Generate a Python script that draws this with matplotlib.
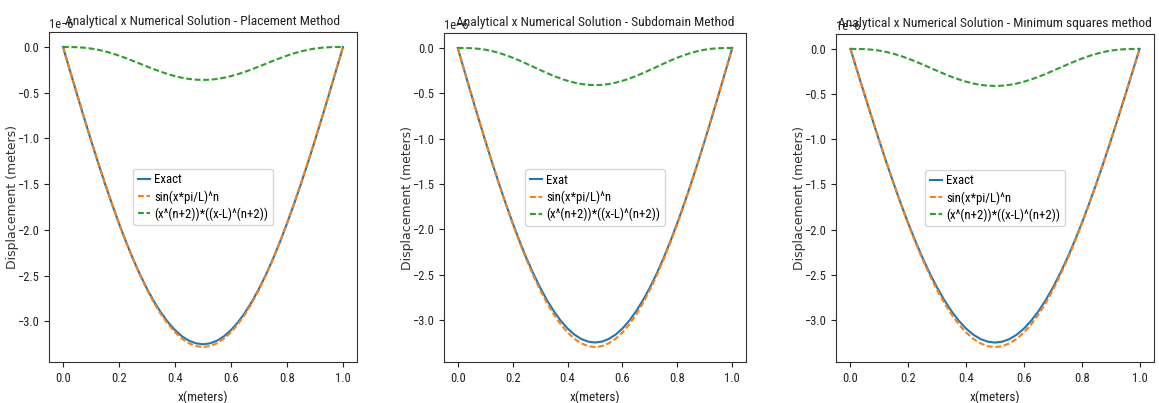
import matplotlib
matplotlib.use("Agg")
import matplotlib.pyplot as plt
import numpy as np

NARROW = ['Roboto Condensed', 'Fira Sans Condensed', 'IBM Plex Sans Condensed',
          'Archivo Narrow', 'DejaVu Sans']
plt.rcParams['font.family'] = NARROW

# x positions (meters)
x = [0.000, 0.025, 0.050, 0.075, 0.100, 0.125, 0.150, 0.175, 0.200, 0.225, 0.250,
     0.275, 0.300, 0.325, 0.350, 0.375, 0.400, 0.425, 0.450, 0.475, 0.500,
     0.525, 0.550, 0.575, 0.600, 0.625, 0.650, 0.675, 0.700, 0.725, 0.750,
     0.775, 0.800, 0.825, 0.850, 0.875, 0.900, 0.925, 0.950, 0.975, 1.000]

# Values in units of 1e-6 m
exact = [0.0, -0.260, -0.518, -0.772, -1.020, -1.262, -1.495, -1.718, -1.930, -2.130, -2.316,
         -2.487, -2.643, -2.782, -2.904, -3.009, -3.095, -3.163, -3.211, -3.240, -3.250,
         -3.240, -3.211, -3.163, -3.095, -3.009, -2.904, -2.782, -2.643, -2.487, -2.316,
         -2.130, -1.930, -1.718, -1.495, -1.262, -1.020, -0.772, -0.518, -0.260, 0.0]

sin_place = [0.0, -0.257, -0.513, -0.766, -1.014, -1.255, -1.489, -1.714, -1.928, -2.130, -2.319,
             -2.494, -2.654, -2.797, -2.923, -3.030, -3.120, -3.189, -3.240, -3.270, -3.280,
             -3.270, -3.240, -3.189, -3.120, -3.030, -2.923, -2.797, -2.654, -2.494, -2.319,
             -2.130, -1.928, -1.714, -1.489, -1.255, -1.014, -0.766, -0.513, -0.257, 0.0]
sin_sub = [0.0, -0.259, -0.516, -0.770, -1.020, -1.263, -1.498, -1.724, -1.940, -2.143, -2.334,
           -2.509, -2.670, -2.814, -2.940, -3.049, -3.139, -3.209, -3.259, -3.290, -3.300,
           -3.290, -3.259, -3.209, -3.139, -3.049, -2.940, -2.814, -2.670, -2.509, -2.334,
           -2.143, -1.940, -1.724, -1.498, -1.263, -1.020, -0.770, -0.516, -0.259, 0.0]
sin_ls = [0.0, -0.259, -0.516, -0.770, -1.020, -1.263, -1.498, -1.724, -1.940, -2.143, -2.334,
          -2.509, -2.670, -2.814, -2.940, -3.049, -3.139, -3.209, -3.259, -3.290, -3.300,
          -3.290, -3.259, -3.209, -3.139, -3.049, -2.940, -2.814, -2.670, -2.509, -2.334,
          -2.143, -1.940, -1.724, -1.498, -1.263, -1.020, -0.770, -0.516, -0.259, 0.0]

poly_place = [0.0, -0.0003, -0.0025, -0.0077, -0.0168, -0.0302, -0.0478, -0.0693, -0.0944, -0.1222, -0.1519,
              -0.1826, -0.2134, -0.2433, -0.2713, -0.2966, -0.3185, -0.3362, -0.3493, -0.3573, -0.3600,
              -0.3573, -0.3493, -0.3362, -0.3185, -0.2966, -0.2713, -0.2433, -0.2134, -0.1826, -0.1519,
              -0.1222, -0.0944, -0.0693, -0.0478, -0.0302, -0.0168, -0.0077, -0.0025, -0.0003, 0.0]
poly_sub = [0.0, -0.0004, -0.0028, -0.0088, -0.0191, -0.0343, -0.0544, -0.0790, -0.1075, -0.1391, -0.1730,
            -0.2080, -0.2430, -0.2770, -0.3090, -0.3378, -0.3627, -0.3829, -0.3978, -0.4069, -0.4100,
            -0.4069, -0.3978, -0.3829, -0.3627, -0.3378, -0.3090, -0.2770, -0.2430, -0.2080, -0.1730,
            -0.1391, -0.1075, -0.0790, -0.0544, -0.0343, -0.0191, -0.0088, -0.0028, -0.0004, 0.0]
poly_ls = [0.0, -0.0004, -0.0028, -0.0088, -0.0191, -0.0343, -0.0544, -0.0790, -0.1075, -0.1391, -0.1730,
           -0.2080, -0.2430, -0.2770, -0.3090, -0.3378, -0.3627, -0.3829, -0.3978, -0.4069, -0.4100,
           -0.4069, -0.3978, -0.3829, -0.3627, -0.3378, -0.3090, -0.2770, -0.2430, -0.2080, -0.1730,
           -0.1391, -0.1075, -0.0790, -0.0544, -0.0343, -0.0191, -0.0088, -0.0028, -0.0004, 0.0]

titles = ["Analytical x Numerical Solution - Placement Method",
          "Analytical x Numerical Solution - Subdomain Method",
          "Analytical x Numerical Solution - Minimum squares method"]
exact_labels = ["Exact", "Exat", "Exact"]
sin_label = "sin(x*pi/L)^n"
poly_label = "(x^(n+2))*((x-L)^(n+2))"

W, H = 1159, 403
fig = plt.figure(figsize=(W / 100, H / 100), dpi=100)

# axes boxes in pixels: left, right, top, bottom
boxes = [(49, 357, 32, 362), (444, 746, 33, 362), (836, 1154, 34, 362)]
sins = [sin_place, sin_sub, sin_ls]
polys = [poly_place, poly_sub, poly_ls]

scale = 1e-6
dash = (2.8, 1.3)
for i, (l, r, t, b) in enumerate(boxes):
    ax = fig.add_axes([l / W, 1 - b / H, (r - l) / W, (b - t) / H])
    ax.plot(x, np.array(exact) * scale, color='C0', lw=1.5, label=exact_labels[i])
    ax.plot(x, np.array(sins[i]) * scale, color='C1', lw=1.5, ls='--', dashes=dash,
            label=sin_label)
    ax.plot(x, np.array(polys[i]) * scale, color='C2', lw=1.5, ls='--', dashes=dash,
            label=poly_label)
    ax.set_title(titles[i], fontsize=9.7, color='#222222', y=1.0, pad=5)
    ax.set_xlabel("x(meters)", fontsize=9.5, color='#222222')
    ax.set_ylabel("Displacement (meters)", fontsize=9, family=['DejaVu Sans'],
                  color='#333333')
    ax.yaxis.set_label_coords(-30 / (r - l), 0.5)
    ax.tick_params(labelsize=9, colors='#222222')
    ax.yaxis.get_offset_text().set_fontsize(9)
    ax.legend(loc='center', fontsize=9.2, handlelength=0.95, handletextpad=0.35,
              borderpad=0.35, labelspacing=0.3, borderaxespad=0.3)
    for s in ax.spines.values():
        s.set_color('#333333')

fig.savefig("out.png", dpi=100)
